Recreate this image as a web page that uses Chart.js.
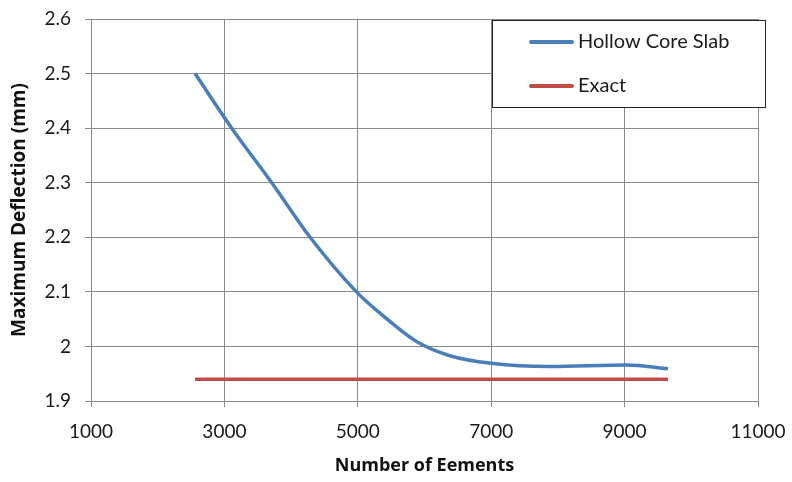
<!DOCTYPE html>
<html>
<head>
<meta charset="utf-8">
<script src="https://cdn.jsdelivr.net/npm/chart.js@4"></script>
<style>
  html, body { margin: 0; padding: 0; background: #fff; }
  #wrap { width: 792px; height: 482px; }
</style>
</head>
<body>
<div id="wrap"><canvas id="deflectionChart" width="792" height="482"></canvas></div>
<script>
// values
const elementCounts = [2560, 3110, 3710, 4285, 4980, 5390, 5880, 6380, 7000, 7880, 9030, 9650];
const hollowCoreDeflection = [2.5, 2.4, 2.3, 2.2, 2.1, 2.055, 2.009, 1.983, 1.969, 1.963, 1.966, 1.959];
const exactCounts = [2560, 9650];
const exactDeflection = [1.94, 1.94];
const seriesNames = ['Hollow Core Slab', 'Exact'];
const seriesColors = ['#4A7EBB', '#BE4B48'];
const xTickValues = [1000, 3000, 5000, 7000, 9000, 11000];
const yTickValues = [1.9, 2.0, 2.1, 2.2, 2.3, 2.4, 2.5, 2.6];

const toPoints = (xs, ys) => xs.map((x, i) => ({ x: x, y: ys[i] }));

const fontFamily = 'Lato, "Open Sans", sans-serif';
const titleFamily = '"Open Sans", Lato, sans-serif';

// box legend in the upper right, like the original
const boxLegend = {
  id: 'boxLegend',
  afterDraw(chart) {
    const ctx = chart.ctx;
    ctx.save();
    ctx.fillStyle = '#fff';
    ctx.fillRect(492, 20, 274, 87);
    ctx.strokeStyle = '#222';
    ctx.lineWidth = 1;
    ctx.strokeRect(492.5, 20.5, 273, 87);
    ctx.font = '20px ' + fontFamily;
    ctx.textBaseline = 'middle';
    chart.data.datasets.forEach((ds, i) => {
      const y = 42 + i * 44;
      ctx.strokeStyle = ds.borderColor;
      ctx.lineWidth = 4;
      ctx.lineCap = 'round';
      ctx.beginPath();
      ctx.moveTo(531, y);
      ctx.lineTo(572, y);
      ctx.stroke();
      ctx.fillStyle = '#1a1a1a';
      ctx.fillText(ds.label, 578, y);
    });
    ctx.restore();
  }
};

new Chart(document.getElementById('deflectionChart').getContext('2d'), {
  type: 'scatter',
  data: {
    datasets: [
      {
        label: seriesNames[0],
        data: toPoints(elementCounts, hollowCoreDeflection),
        showLine: true,
        borderColor: seriesColors[0],
        backgroundColor: seriesColors[0],
        borderWidth: 3.5,
        pointRadius: 0,
        cubicInterpolationMode: 'monotone'
      },
      {
        label: seriesNames[1],
        data: toPoints(exactCounts, exactDeflection),
        showLine: true,
        borderColor: seriesColors[1],
        backgroundColor: seriesColors[1],
        borderWidth: 3.5,
        pointRadius: 0
      }
    ]
  },
  options: {
    responsive: false,
    animation: false,
    layout: { padding: { top: 19, right: 34, left: 0, bottom: 0 } },
    plugins: {
      legend: { display: false },
      tooltip: { enabled: false }
    },
    scales: {
      x: {
        type: 'linear',
        min: 1000,
        max: 11000,
        afterBuildTicks: scale => {
          scale.ticks = xTickValues.map(v => ({ value: v }));
        },
        afterFit: scale => {
          scale.height = 81;
          scale.paddingLeft = 0;
          scale.paddingRight = 0;
        },
        grid: { color: '#888', tickColor: '#888', tickLength: 6, lineWidth: 1 },
        border: { color: '#888' },
        ticks: {
          color: '#1a1a1a',
          font: { family: fontFamily, size: 19 },
          padding: 13,
          maxRotation: 0,
          callback: v => String(v)
        },
        title: {
          display: true,
          text: 'Number of Eements',
          color: '#111',
          font: { family: titleFamily, size: 18, weight: 'bold' },
          padding: { top: 0, bottom: 5 }
        }
      },
      y: {
        min: 1.9,
        max: 2.6,
        afterBuildTicks: scale => {
          scale.ticks = yTickValues.map(v => ({ value: v }));
        },
        afterFit: scale => {
          scale.width = 91;
          scale.paddingTop = 0;
          scale.paddingBottom = 0;
        },
        grid: { color: '#888', tickColor: '#888', tickLength: 6, lineWidth: 1 },
        border: { color: '#888' },
        ticks: {
          color: '#1a1a1a',
          font: { family: fontFamily, size: 19 },
          padding: 14,
          callback: v => String(Math.round(v * 10) / 10)
        },
        title: {
          display: true,
          text: 'Maximum Deflection (mm)',
          color: '#111',
          font: { family: titleFamily, size: 19, weight: 'bold' },
          padding: { top: 8, bottom: 0 }
        }
      }
    }
  },
  plugins: [boxLegend]
});
</script>
</body>
</html>
